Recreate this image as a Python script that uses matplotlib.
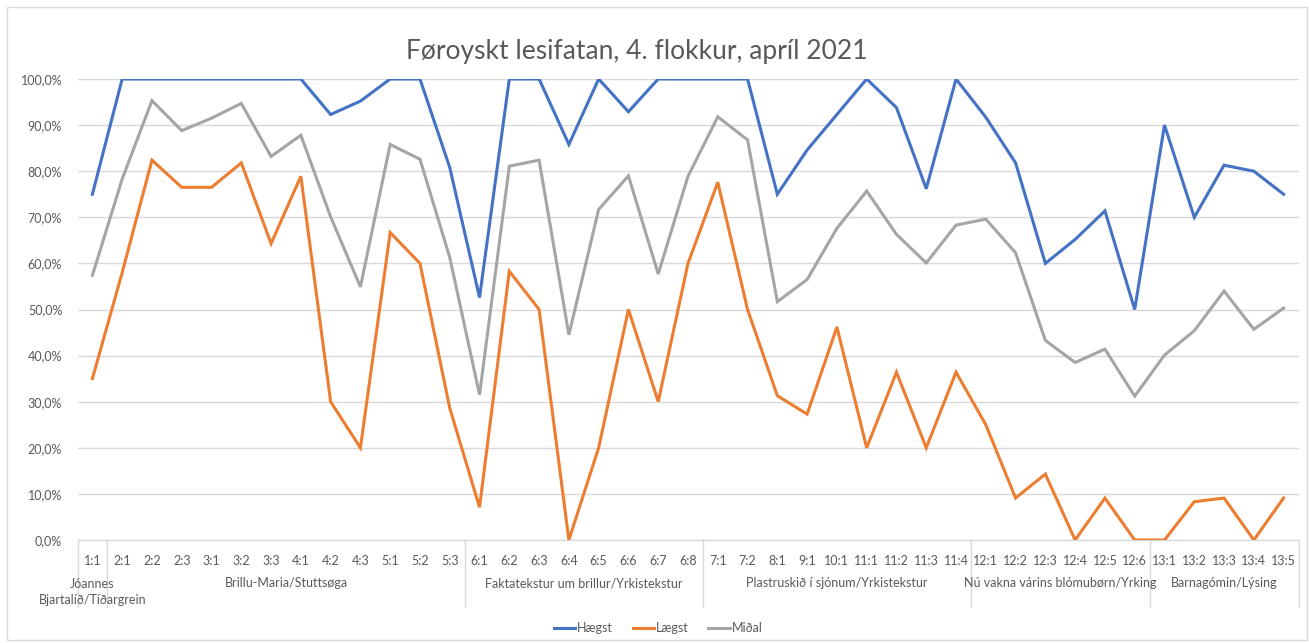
import matplotlib
matplotlib.use("Agg")
import matplotlib.pyplot as plt
from matplotlib.patches import Rectangle
from matplotlib.lines import Line2D
from matplotlib.ticker import FuncFormatter, MultipleLocator

plt.rcParams['font.family'] = ['Lato', 'DejaVu Sans']

categories = ["1:1", "2:1", "2:2", "2:3", "3:1", "3:2", "3:3", "4:1", "4:2", "4:3",
              "5:1", "5:2", "5:3", "6:1", "6:2", "6:3", "6:4", "6:5", "6:6", "6:7",
              "6:8", "7:1", "7:2", "8:1", "9:1", "10:1", "11:1", "11:2", "11:3", "11:4",
              "12:1", "12:2", "12:3", "12:4", "12:5", "12:6", "13:1", "13:2", "13:3", "13:4",
              "13:5"]

groups = ["Jóannes\nBjartalíð/Tíðargrein", "Brillu-Maria/Stuttsøga",
          "Faktatekstur um brillur/Yrkistekstur", "Plastruskið í sjónum/Yrkistekstur",
          "Nú vakna várins blómubørn/Yrking", "Barnagómin/Lýsing"]
group_sizes = [1, 12, 8, 9, 6, 5]

haegst = [75.0, 100, 100, 100, 100, 100, 100, 100, 92.3, 95.2,
          100, 100, 80.8, 52.6, 100, 100, 85.8, 100, 92.9, 100,
          100, 100, 100, 75.0, 84.6, 92.3, 100, 93.8, 76.2, 100,
          91.7, 81.8, 60.0, 65.2, 71.4, 50.0, 90.0, 70.0, 81.3, 80.0,
          75.0]

laegst = [35.0, 58.0, 82.4, 76.5, 76.5, 81.8, 64.3, 78.9, 30.0, 20.0,
          66.7, 60.0, 28.6, 7.1, 58.3, 50.0, 0.0, 20.0, 50.0, 30.0,
          60.0, 77.6, 50.0, 31.3, 27.3, 46.2, 20.0, 36.4, 20.0, 36.4,
          25.0, 9.1, 14.3, 0.0, 9.1, 0.0, 0.0, 8.3, 9.1, 0.0,
          9.1]

midal = [57.4, 78.3, 95.3, 88.8, 91.5, 94.7, 83.2, 87.8, 70.1, 54.9,
         85.8, 82.6, 61.3, 31.5, 81.1, 82.4, 44.5, 71.7, 79.0, 57.7,
         78.9, 91.8, 86.8, 51.7, 56.5, 67.6, 75.7, 66.3, 60.1, 68.3,
         69.6, 62.3, 43.3, 38.5, 41.4, 31.2, 40.1, 45.4, 54.0, 45.7,
         50.3]

series_names = ["Hægst", "Lægst", "Miðal"]
colors = ["#4472C4", "#ED7D31", "#A5A5A5"]

W, H = 1309, 643
fig = plt.figure(figsize=(W / 100, H / 100), dpi=100)

# chart border
fig.patches.append(Rectangle((6.5 / W, 1 - 640 / H), (1306.5 - 6.5) / W, (640 - 6.5) / H,
                             transform=fig.transFigure, fill=False, edgecolor="#D9D9D9",
                             linewidth=1.0, zorder=0))

left, right, top, bottom = 77.5, 1298.5, 79, 540
ax = fig.add_axes([left / W, 1 - bottom / H, (right - left) / W, (bottom - top) / H])

x = list(range(len(categories)))
for vals, name, c in zip([haegst, laegst, midal], series_names, colors):
    ax.plot(x, vals, color=c, linewidth=2.2, label=name, solid_joinstyle="miter", zorder=3)

ax.set_xlim(-0.5, len(categories) - 0.5)
ax.set_ylim(0, 100)
ax.yaxis.set_major_locator(MultipleLocator(10))
ax.yaxis.set_major_formatter(FuncFormatter(lambda v, p: f"{v:.1f}".replace(".", ",") + "%"))
ax.grid(axis="y", color="#D9D9D9", linewidth=1.0, zorder=0)
ax.set_axisbelow(True)
for s in ["left", "right", "top"]:
    ax.spines[s].set_visible(False)
ax.spines["bottom"].set_color("#D9D9D9")
ax.spines["bottom"].set_linewidth(1.0)
ax.tick_params(axis="y", length=0, pad=11, labelsize=9, labelcolor="#595959")
ax.set_xticks(x)
ax.set_xticklabels(categories)
ax.tick_params(axis="x", length=0, pad=11, labelsize=9, labelcolor="#595959")

# group separators and labels
trans = ax.get_xaxis_transform()
ph = bottom - top
line_bottom = -(607 - bottom) / ph
start = 0
bounds = [-0.5]
for g, n in zip(groups, group_sizes):
    center = start + (n - 1) / 2
    start += n
    bounds.append(start - 0.5)
    if "\n" in g:
        ax.text(center, -(591.5 - bottom) / ph, g, transform=trans, ha="center",
                va="center", fontsize=9, color="#595959", linespacing=1.4)
    else:
        ax.text(center, -(583 - bottom) / ph, g, transform=trans, ha="center",
                va="center", fontsize=9, color="#595959")
for b in bounds:
    ax.add_line(Line2D([b, b], [0, line_bottom], transform=trans, color="#D9D9D9",
                       linewidth=1.0, clip_on=False))

fig.text(637 / W, 1 - 51 / H, "Føroyskt lesifatan, 4. flokkur, apríl 2021",
         ha="center", va="center", fontsize=19, color="#595959")

fig.legend(loc="center", bbox_to_anchor=(658 / W, 1 - 628 / H), ncol=3, frameon=False,
           fontsize=9, labelcolor="#595959", handlelength=1.75, handletextpad=0.1,
           columnspacing=1.6)

fig.savefig("out.png", dpi=100)
